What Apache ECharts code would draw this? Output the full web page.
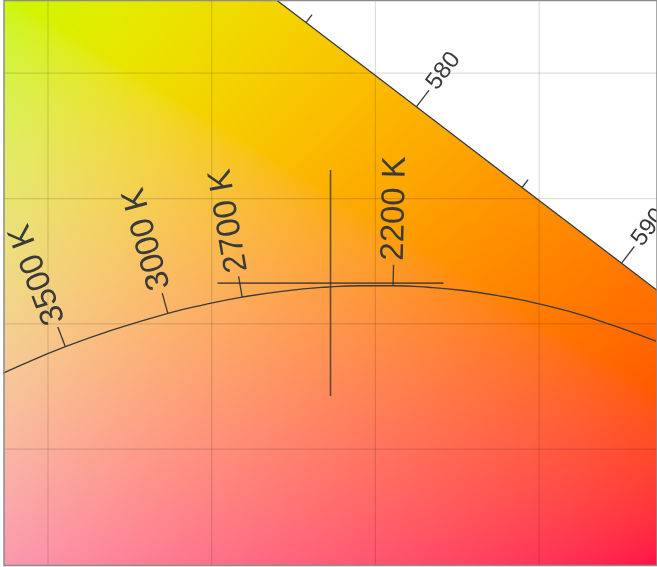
<!DOCTYPE html>
<html><head><meta charset="utf-8">
<script src="https://cdn.jsdelivr.net/npm/echarts@6/dist/echarts.min.js"></script>
<style>html,body{margin:0;padding:0;background:#fff}#c{width:657px;height:567px}</style>
</head><body><div id="c"></div>
<script>
// ---- data ----
const xRange = [0.38656, 0.58601];
const yRange = [0.3036, 0.5290];
const gridX = [0.40, 0.45, 0.50, 0.55];
const gridY = [0.35, 0.40, 0.45, 0.50];
// spectral locus (CIE 1931 2°)
const locusNm = [555, 560, 565, 570, 575, 580, 585, 590, 595, 600, 605];
const locusX = [0.3373, 0.3731, 0.4087, 0.4441, 0.4788, 0.5125, 0.5448, 0.5752, 0.6029, 0.6270, 0.6482];
const locusY = [0.6589, 0.6245, 0.5896, 0.5547, 0.5202, 0.4866, 0.4544, 0.4242, 0.3965, 0.3725, 0.3514];
const locusLabels = ['', '560', '', '570', '', '580', '', '590', '', '600', ''];
// Planckian locus
const planckT = [4500, 4000, 3750, 3500, 3250, 3000, 2850, 2700, 2550, 2400, 2300, 2200, 2100, 2000, 1900, 1800, 1667, 1500];
const planckX = [0.3607, 0.3805, 0.3923, 0.4053, 0.4200, 0.4366, 0.4475, 0.4593, 0.4720, 0.4857, 0.4953, 0.5054, 0.5160, 0.5269, 0.5381, 0.5496, 0.5646, 0.5857];
const planckY = [0.3635, 0.3767, 0.3838, 0.3909, 0.3977, 0.4042, 0.4076, 0.4107, 0.4131, 0.4147, 0.4152, 0.4152, 0.4146, 0.4133, 0.4111, 0.4081, 0.4029, 0.3931];
const cctMarks = [3500, 3000, 2700, 2200];
const cctLabels = ['3500 K', '3000 K', '2700 K', '2200 K'];
const crosshair = [0.48629, 0.41626];

// ---- helpers ----
const TEXT = '#3a3a3a';
function gam(v) { return v <= 0.0031308 ? 12.92 * v : 1.055 * Math.pow(v, 1 / 2.4) - 0.055; }
function xyToRgb(x, y) {
  const X = x / y, Y = 1, Z = (1 - x - y) / y;
  let r = 3.2406 * X - 1.5372 * Y - 0.4986 * Z;
  let g = -0.9689 * X + 1.8758 * Y + 0.0415 * Z;
  let b = 0.0557 * X - 0.2040 * Y + 1.0570 * Z;
  r = Math.max(r, 0); g = Math.max(g, 0); b = Math.max(b, 0);
  const m = Math.cbrt(r * r * r + g * g * g + b * b * b) || 1;
  return [gam(r / m) * 255, gam(g / m) * 255, gam(b / m) * 255];
}
function locusYAt(x) {
  for (let i = 0; i < locusX.length - 1; i++) {
    if (x >= locusX[i] && x <= locusX[i + 1]) {
      const t = (x - locusX[i]) / (locusX[i + 1] - locusX[i]);
      return locusY[i] + t * (locusY[i + 1] - locusY[i]);
    }
  }
  return -1;
}
let bgCache = null;
function renderBg(params, api) {
  const tl = api.coord([xRange[0], yRange[1]]);
  const br = api.coord([xRange[1], yRange[0]]);
  const w = br[0] - tl[0], h = br[1] - tl[1];
  if (!bgCache) {
    const dpr = window.devicePixelRatio || 1;
    const W = Math.round(w * dpr), H = Math.round(h * dpr);
    const cv = document.createElement('canvas'); cv.width = W; cv.height = H;
    const ctx = cv.getContext('2d');
    const img = ctx.createImageData(W, H);
    const d = img.data;
    for (let j = 0; j < H; j++) {
      const y = yRange[1] - (j + 0.5) / H * (yRange[1] - yRange[0]);
      for (let i = 0; i < W; i++) {
        const x = xRange[0] + (i + 0.5) / W * (xRange[1] - xRange[0]);
        const k = (j * W + i) * 4;
        if (y > locusYAt(x)) { d[k + 3] = 0; continue; }
        const c = xyToRgb(x, y);
        d[k] = c[0]; d[k + 1] = c[1]; d[k + 2] = c[2]; d[k + 3] = 255;
      }
    }
    ctx.putImageData(img, 0, 0);
    bgCache = cv;
  }
  return { type: 'image', silent: true, style: { image: bgCache, x: tl[0], y: tl[1], width: w, height: h } };
}
function renderGrid(params, api) {
  const tl = api.coord([xRange[0], yRange[1]]);
  const br = api.coord([xRange[1], yRange[0]]);
  const children = [];
  gridX.forEach(v => {
    const p = api.coord([v, yRange[0]]);
    children.push({ type: 'line', shape: { x1: p[0], y1: tl[1], x2: p[0], y2: br[1] }, style: { stroke: 'rgba(0,0,0,0.13)', lineWidth: 1.2 } });
  });
  gridY.forEach(v => {
    const p = api.coord([xRange[0], v]);
    children.push({ type: 'line', shape: { x1: tl[0], y1: p[1], x2: br[0], y2: p[1] }, style: { stroke: 'rgba(0,0,0,0.13)', lineWidth: 1.2 } });
  });
  return { type: 'group', silent: true, children };
}
function tickGroup(p, a, b, len, label, fontSize) {
  let tx = b[0] - a[0], ty = b[1] - a[1];
  const L = Math.hypot(tx, ty); tx /= L; ty /= L;
  const nx = ty, ny = -tx;
  const children = [{ type: 'line', shape: { x1: p[0], y1: p[1], x2: p[0] + nx * len, y2: p[1] + ny * len }, style: { stroke: '#3a3a3a', lineWidth: 1.3 } }];
  if (label) {
    const g = len + 4;
    children.push({ type: 'text', x: p[0] + nx * g, y: p[1] + ny * g, rotation: Math.atan2(-ny, nx),
      style: { text: label, x: 0, y: 0, fill: TEXT, fontSize: fontSize, fontFamily: 'sans-serif', align: 'left', verticalAlign: 'middle' } });
  }
  return { type: 'group', silent: true, children };
}
function renderSpecTick(params, api) {
  const i = api.value(2);
  const p = api.coord([locusX[i], locusY[i]]);
  const a = api.coord([locusX[i - 1], locusY[i - 1]]);
  const b = api.coord([locusX[i + 1], locusY[i + 1]]);
  const lab = locusLabels[i];
  return tickGroup(p, a, b, lab ? 21 : 10, lab, 24);
}
function renderCct(params, api) {
  const k = api.value(2);
  const i = planckT.indexOf(cctMarks[k]);
  const p = api.coord([planckX[i], planckY[i]]);
  const a = api.coord([planckX[i - 1], planckY[i - 1]]);
  const b = api.coord([planckX[i + 1], planckY[i + 1]]);
  return tickGroup(p, a, b, 21, cctLabels[k], 33);
}
function renderCross(params, api) {
  const p = api.coord([api.value(0), api.value(1)]);
  const r = 113;
  const st = { stroke: 'rgba(45,45,45,0.72)', lineWidth: 1.6 };
  return { type: 'group', silent: true, children: [
    { type: 'line', shape: { x1: p[0] - r, y1: p[1], x2: p[0] + r, y2: p[1] }, style: st },
    { type: 'line', shape: { x1: p[0], y1: p[1] - r, x2: p[0], y2: p[1] + r }, style: st }
  ] };
}
function renderFrame(params, api) {
  const tl = api.coord([xRange[0], yRange[1]]);
  const br = api.coord([xRange[1], yRange[0]]);
  return { type: 'rect', silent: true, shape: { x: tl[0], y: tl[1], width: br[0] - tl[0], height: br[1] - tl[1] },
    style: { fill: null, stroke: '#8c8c8c', lineWidth: 1.5 } };
}

const chart = echarts.init(document.getElementById('c'));
chart.setOption({
  animation: false,
  backgroundColor: '#fff',
  grid: { left: 4, right: 0, top: 0.5, bottom: 1.5 },
  xAxis: { type: 'value', min: xRange[0], max: xRange[1], show: false, splitLine: { show: false } },
  yAxis: { type: 'value', min: yRange[0], max: yRange[1], show: false, splitLine: { show: false } },
  series: [
    { type: 'custom', z: 1, clip: true, renderItem: renderBg, data: [[xRange[0], yRange[0]]] },
    { type: 'custom', z: 2, clip: true, renderItem: renderGrid, data: [[xRange[0], yRange[0]]] },
    { type: 'line', z: 3, clip: true, symbol: 'none', smooth: false, silent: true,
      lineStyle: { color: '#3a3a3a', width: 1.3 },
      data: locusX.map((x, i) => [x, locusY[i]]) },
    { type: 'line', z: 3, clip: true, symbol: 'none', smooth: true, silent: true,
      lineStyle: { color: '#3a3a3a', width: 1.3 },
      data: planckX.map((x, i) => [x, planckY[i]]) },
    { type: 'custom', z: 4, clip: true, renderItem: renderSpecTick,
      data: locusNm.slice(1, -1).map((nm, j) => [locusX[j + 1], locusY[j + 1], j + 1]) },
    { type: 'custom', z: 4, clip: true, renderItem: renderCct,
      data: cctMarks.map((t, k) => { const i = planckT.indexOf(t); return [planckX[i], planckY[i], k]; }) },
    { type: 'custom', z: 5, clip: true, renderItem: renderCross, data: [crosshair] },
    { type: 'custom', z: 6, clip: false, renderItem: renderFrame, data: [[xRange[0], yRange[0]]] }
  ]
});
</script>
</body></html>
